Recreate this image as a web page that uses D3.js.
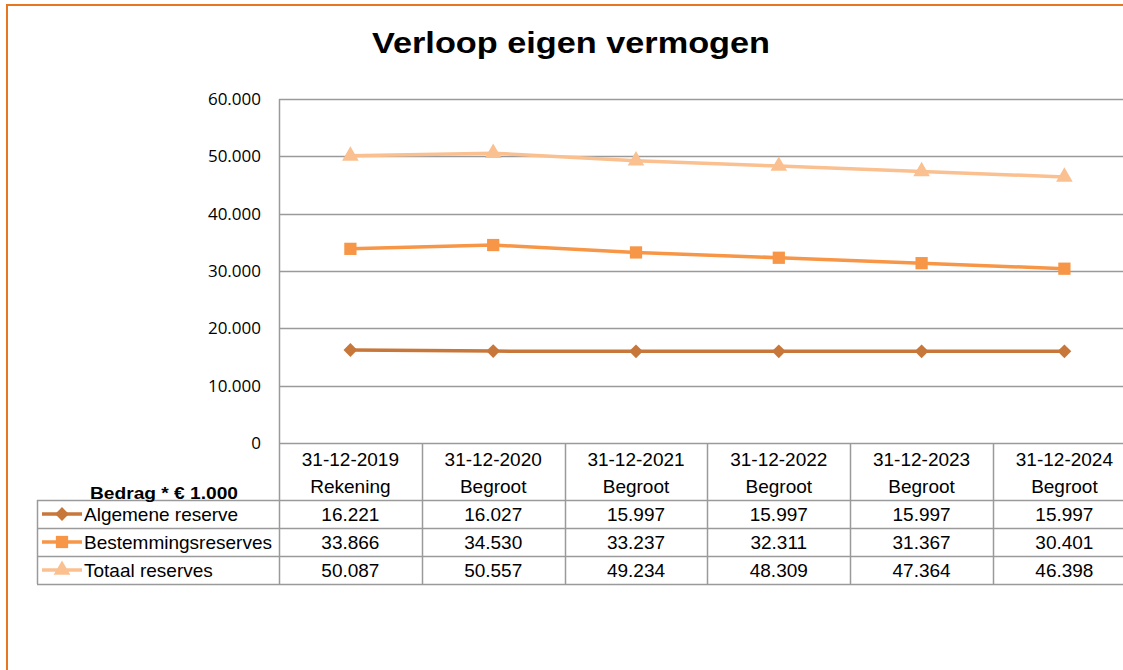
<!DOCTYPE html>
<html>
<head>
<meta charset="utf-8">
<style>
    body {
        margin: 0;
        background: #fff;
        font-family: "Liberation Sans", Arial, sans-serif;
    }
    svg {
        display: block;
    }
    .title {
        font-size: 30px;
        font-weight: bold;
        text-anchor: middle;
    }
    .y-label {
        font-family: "Open Sans", "Noto Sans", sans-serif;
        font-size: 17px;
        text-anchor: end;
    }
    .cell {
        font-size: 19px;
        text-anchor: middle;
    }
    .row-label {
        font-size: 19px;
    }
    .unit {
        font-size: 17px;
        font-weight: bold;
    }
</style>
</head>
<body>
<script src="https://cdn.jsdelivr.net/npm/d3@7"></script>
<script>

    var dates = ["31-12-2019", "31-12-2020", "31-12-2021", "31-12-2022", "31-12-2023", "31-12-2024"];
    var kinds = ["Rekening", "Begroot", "Begroot", "Begroot", "Begroot", "Begroot"];

    var algemene = [16221, 16027, 15997, 15997, 15997, 15997];
    var bestemming = [33866, 34530, 33237, 32311, 31367, 30401];
    var totaal = [50087, 50557, 49234, 48309, 47364, 46398];

    var yTicks = [0, 10000, 20000, 30000, 40000, 50000, 60000];

    // diamond = square turned 45 degrees
    var series = [
        {name: "Algemene reserve", values: algemene, color: "#C8773A", symbol: d3.symbolSquare, size: 95, rotate: 45},
        {name: "Bestemmingsreserves", values: bestemming, color: "#F79646", symbol: d3.symbolSquare, size: 150, rotate: 0},
        {name: "Totaal reserves", values: totaal, color: "#FAC090", symbol: d3.symbolTriangle, size: 120, rotate: 0}
    ];

    var width = 1123,
        height = 670,
        plotLeft = 279,
        colWidth = 142.8,
        plotTop = 99,
        plotBottom = 443,
        tableLeft = 37,
        rowHeight = 28,
        headerBottom = 500;

    var nl = d3.formatLocale({decimal: ",", thousands: ".", grouping: [3], currency: ["€", ""]});
    var fmt = nl.format(",d");

    var x = d3.scaleBand()
        .domain(dates)
        .range([plotLeft, plotLeft + colWidth * dates.length]);

    var y = d3.scaleLinear()
        .domain([0, 60000])
        .range([plotBottom, plotTop]);

    var svg = d3.select("body").append("svg")
        .attr("width", width)
        .attr("height", height);

    // frame
    svg.append("rect")
        .attr("x", 7)
        .attr("y", 5)
        .attr("width", width + 20)
        .attr("height", height + 20)
        .attr("fill", "none")
        .attr("stroke", "#E8761E")
        .attr("stroke-width", 2);

    svg.append("text")
        .attr("class", "title")
        .attr("x", 571)
        .attr("y", 53)
        .attr("textLength", 398)
        .attr("lengthAdjust", "spacingAndGlyphs")
        .text("Verloop eigen vermogen");

    // gridlines
    svg.append("g")
        .selectAll("line")
        .data(yTicks)
      .enter().append("line")
        .attr("x1", plotLeft)
        .attr("x2", width)
        .attr("y1", function(d) {return Math.round(y(d)) + 0.5})
        .attr("y2", function(d) {return Math.round(y(d)) + 0.5})
        .attr("stroke", "#9a9a9a")
        .attr("stroke-width", 1.5);

    svg.append("line")
        .attr("x1", plotLeft + 0.5)
        .attr("x2", plotLeft + 0.5)
        .attr("y1", plotTop)
        .attr("y2", 584)
        .attr("stroke", "#9a9a9a")
        .attr("stroke-width", 1.5);

    svg.append("g")
        .selectAll("text")
        .data(yTicks)
      .enter().append("text")
        .attr("class", "y-label")
        .attr("x", 261)
        .attr("y", function(d) {return y(d) + 6})
        .text(function(d) {return d === 0 ? "0" : fmt(d)});

    // lines and markers
    var line = d3.line()
        .x(function(d, i) {return x(dates[i]) + x.bandwidth() / 2})
        .y(function(d) {return y(d)});

    series.forEach(function(s) {
        svg.append("path")
            .attr("d", line(s.values))
            .attr("fill", "none")
            .attr("stroke", s.color)
            .attr("stroke-width", 3.5);

        svg.append("g")
            .selectAll("path")
            .data(s.values)
          .enter().append("path")
            .attr("transform", function(d, i) {
                return "translate(" + (x(dates[i]) + x.bandwidth() / 2) + "," + y(d) + ") rotate(" + s.rotate + ")";
            })
            .attr("d", d3.symbol().type(s.symbol).size(s.size))
            .attr("fill", s.color);
    });

    // table
    var grid = svg.append("g")
        .attr("stroke", "#9a9a9a")
        .attr("stroke-width", 1.5);

    var rowLines = d3.range(series.length + 1).map(function(i) {return headerBottom + i * rowHeight});

    grid.selectAll("line.h")
        .data(rowLines)
      .enter().append("line")
        .attr("x1", tableLeft)
        .attr("x2", width)
        .attr("y1", function(d) {return d + 0.5})
        .attr("y2", function(d) {return d + 0.5});

    grid.selectAll("line.v")
        .data(dates.slice(1))
      .enter().append("line")
        .attr("x1", function(d) {return Math.round(x(d)) + 0.5})
        .attr("x2", function(d) {return Math.round(x(d)) + 0.5})
        .attr("y1", plotBottom)
        .attr("y2", rowLines[rowLines.length - 1]);

    grid.append("line")
        .attr("x1", tableLeft + 0.5)
        .attr("x2", tableLeft + 0.5)
        .attr("y1", headerBottom)
        .attr("y2", rowLines[rowLines.length - 1]);

    svg.append("g")
        .selectAll("text")
        .data(dates)
      .enter().append("text")
        .attr("class", "cell")
        .attr("x", function(d) {return x(d) + x.bandwidth() / 2})
        .attr("y", 466)
        .text(function(d) {return d});

    svg.append("g")
        .selectAll("text")
        .data(kinds)
      .enter().append("text")
        .attr("class", "cell")
        .attr("x", function(d, i) {return x(dates[i]) + x.bandwidth() / 2})
        .attr("y", 493)
        .text(function(d) {return d});

    svg.append("text")
        .attr("class", "unit")
        .attr("x", 90)
        .attr("y", 499)
        .attr("textLength", 148)
        .attr("lengthAdjust", "spacingAndGlyphs")
        .text("Bedrag * € 1.000");

    series.forEach(function(s, r) {
        var cy = headerBottom + r * rowHeight + rowHeight / 2;

        svg.append("line")
            .attr("x1", 42)
            .attr("x2", 82)
            .attr("y1", cy)
            .attr("y2", cy)
            .attr("stroke", s.color)
            .attr("stroke-width", 3.5);

        svg.append("path")
            .attr("transform", "translate(62," + cy + ") rotate(" + s.rotate + ")")
            .attr("d", d3.symbol().type(s.symbol).size(s.size))
            .attr("fill", s.color);

        svg.append("text")
            .attr("class", "row-label")
            .attr("x", 84)
            .attr("y", cy + 7)
            .text(s.name);

        svg.append("g")
            .selectAll("text")
            .data(s.values)
          .enter().append("text")
            .attr("class", "cell")
            .attr("x", function(d, i) {return x(dates[i]) + x.bandwidth() / 2})
            .attr("y", cy + 7)
            .text(function(d) {return fmt(d)});
    });
</script>
</body>
</html>
